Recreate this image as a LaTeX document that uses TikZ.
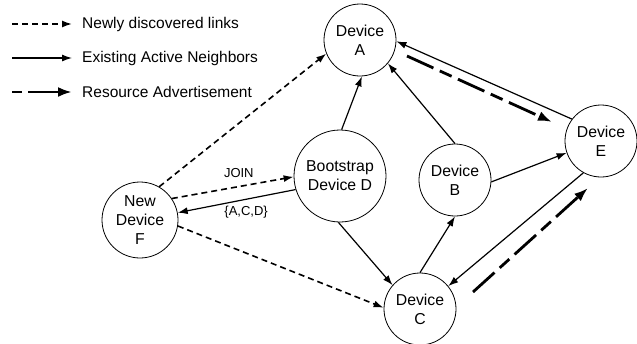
\documentclass[tikz,border=0pt]{standalone}
\usepackage{fontspec}
\setmainfont{Liberation Sans}
\usetikzlibrary{arrows.meta}
\begin{document}
\begin{tikzpicture}[x=1pt,y=-1pt,
 dev/.style={circle,draw,line width=0.8pt,inner sep=0pt,align=center,font=\fontsize{15.8}{19}\selectfont},
 nb/.style={line width=1.2pt,-{Latex[length=10pt,width=7pt]}},
 nw/.style={line width=1.6pt,dash pattern=on 6pt off 4pt,-{Latex[length=10pt,width=7pt]}},
 adv/.style={line width=2.8pt,dash pattern=on 29pt off 7pt on 13pt off 7pt,-{Latex[length=14pt,width=10pt]}},
 lbl/.style={inner sep=0pt,font=\fontsize{13}{15}\selectfont},
 leg/.style={anchor=west,inner sep=0pt,font=\fontsize{15.5}{17}\selectfont}]
\useasboundingbox (0,0) rectangle (637,343);
% legend
\coordinate (l1s) at (12,24); \coordinate (l1e) at (72,24);
\coordinate (l2s) at (12,58); \coordinate (l2e) at (72,58);
\coordinate (l3s) at (12,92); \coordinate (l3e) at (72,92);
\draw[nw] (l1s) -- (l1e);
\draw[line width=1.2pt,dash pattern=on 0.5pt off 0.4pt,-{Latex[length=10pt,width=7pt]}] (l2s) -- (l2e);
\draw[line width=2.8pt,dash pattern=on 10pt off 6pt on 80pt,-{Latex[length=14pt,width=10pt]}] (l3s) -- (l3e);
\node[leg] (t1) at (82,24) {Newly discovered links};
\node[leg] (t2) at (82,58) {Existing Active Neighbors};
\node[leg] (t3) at (82,92) {Resource Advertisement};
% devices
\node[dev,minimum size=72pt] (A) at (360,40) {Device\\A};
\node[dev,minimum size=72pt] (B) at (455,180) {Device\\B};
\node[dev,minimum size=72pt] (C) at (420,309) {Device\\C};
\node[dev,minimum size=92pt] (D) at (340,176) {Bootstrap\\Device D};
\node[dev,minimum size=72pt] (E) at (601,141) {Device\\E};
\node[dev,minimum size=76pt] (F) at (140,220) {New\\Device\\F};
% newly discovered
\draw[nw] (F.60) -- (A.202);
\draw[nw] (F.34) -- (D.181) node[lbl,pos=0.55,above=8pt] (join) {JOIN};
\draw[nw] (F.351) -- (C.178);
% existing neighbours
\draw[nb] (D.197) -- (F.11) node[lbl,pos=0.42,below=6pt] (acd) {\{A,C,D\}};
\draw[nb] (D.88) -- (A.273);
\draw[nb] (D.268) -- (C.139);
\draw[nb] (B.90) -- (A.320);
\draw[nb] (B.357) -- (E.199);
\draw[nb] (E.143) -- (A.358);
\draw[nb] (C.90) -- (B.270);
\draw[nb] (E.241) -- (C.39);
% resource advertisement
\coordinate (r1s) at (407,56); \coordinate (r1e) at (552,122);
\coordinate (r2s) at (473,292); \coordinate (r2e) at (588,188);
\draw[adv] (r1s) -- (r1e);
\draw[adv] (r2s) -- (r2e);
\end{tikzpicture}
\end{document}
